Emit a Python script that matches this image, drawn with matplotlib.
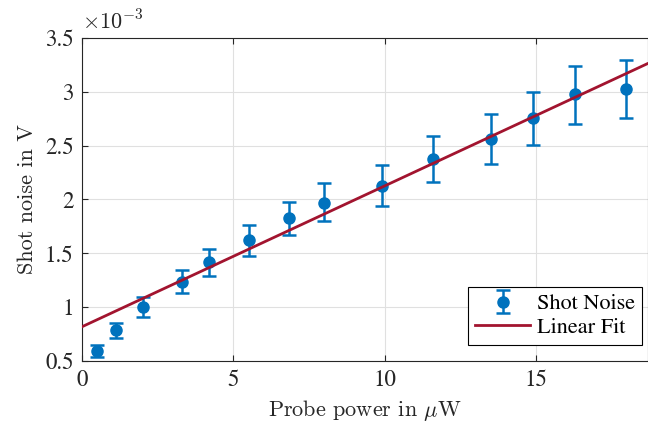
import matplotlib.pyplot as plt
import numpy as np

# measured data (power in uW, noise in 1e-3 V)
power = [0.5, 1.11, 2.03, 3.31, 4.21, 5.51, 6.83, 8.0, 9.9, 11.6, 13.5, 14.9, 16.29, 17.98]
noise = [0.593, 0.785, 0.999, 1.236, 1.419, 1.62, 1.825, 1.967, 2.128, 2.378, 2.561, 2.759, 2.976, 3.028]
err_low = [0.053, 0.072, 0.09, 0.108, 0.13, 0.142, 0.155, 0.167, 0.192, 0.213, 0.229, 0.251, 0.273, 0.268]
err_high = [0.058, 0.068, 0.091, 0.112, 0.124, 0.145, 0.151, 0.183, 0.192, 0.214, 0.229, 0.241, 0.263, 0.272]

# linear fit parameters
fit_intercept = 0.818
fit_slope = 0.1308

blue = '#0072BD'
red = '#A2142F'
dark = (0.15, 0.15, 0.15)

plt.rcParams['font.family'] = 'STIXGeneral'
plt.rcParams['mathtext.fontset'] = 'cm'

fig = plt.figure(figsize=(6.48, 4.23), dpi=100)
ax = fig.add_axes([0.1265, 0.1466, 0.8735, 0.7636])

eb = ax.errorbar(power, noise, yerr=[err_low, err_high], fmt='o', color=blue,
                 markersize=8, elinewidth=1.8, capsize=5, capthick=1.8,
                 label='Shot Noise', zorder=3)

x_fit = np.array([0, 18.7])
fit_line, = ax.plot(x_fit, fit_intercept + fit_slope*x_fit, color=red,
                    linewidth=2, label='Linear Fit', zorder=4)

ax.set_xlim(0, 18.7)
ax.set_ylim(0.5, 3.5)
ax.set_xticks([0, 5, 10, 15])
ax.set_yticks([0.5, 1, 1.5, 2, 2.5, 3, 3.5])
ax.set_yticklabels(['0.5', '1', '1.5', '2', '2.5', '3', '3.5'])
ax.grid(True, color=(0.88, 0.88, 0.88), linewidth=0.8)
ax.set_axisbelow(True)
ax.tick_params(direction='in', labelsize=16.5, colors=dark,
               top=True, length=4, pad=6)
for s in ax.spines.values():
    s.set_color(dark)
    s.set_linewidth(0.8)

ax.set_xlabel(r'Probe power in $\mu$W', fontsize=16, color=dark,
              family='cmr10', labelpad=5)
ax.set_ylabel('Shot noise in V', fontsize=16, color=dark,
              family='cmr10', labelpad=6)
ax.text(0.0, 1.01, r'$\times\mathrm{10}^{\mathrm{-3}}$', transform=ax.transAxes,
        fontsize=16, color=dark, va='bottom', ha='left', family='STIXGeneral')

leg = ax.legend([eb, fit_line], ['Shot Noise', 'Linear Fit'], loc='lower right',
                fontsize=16, fancybox=False, framealpha=1, edgecolor='black',
                bbox_to_anchor=(0.989, 0.05), handlelength=2.5,
                handletextpad=0.3, borderpad=0.3, labelspacing=0.15,
                borderaxespad=0)
leg.get_frame().set_linewidth(0.8)

fig.savefig('out.png')
